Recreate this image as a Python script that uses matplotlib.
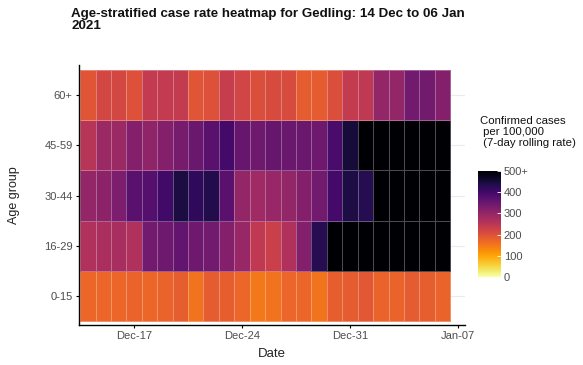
import numpy as np
import pandas as pd
import matplotlib
matplotlib.use("Agg")
import matplotlib.pyplot as plt
import matplotlib.dates as mdates

plt.rcParams['font.family'] = ['Liberation Sans', 'DejaVu Sans']

# 7-day rolling case rate per 100,000, Dec 14 2020 .. Jan 06 2021
dates = pd.date_range('2020-12-14', '2021-01-06', freq='D')
age_groups = ['0-15', '16-29', '30-44', '45-59', '60+']

rate_0_15 = [170, 170, 170, 175, 170, 175, 180, 155, 185, 180, 170, 150,
             155, 170, 170, 155, 180, 185, 190, 175, 175, 185, 180, 175]
rate_16_29 = [265, 270, 275, 265, 340, 345, 360, 345, 340, 320, 295, 245,
              230, 265, 320, 430, 540, 580, 620, 650, 680, 700, 690, 680]
rate_30_44 = [300, 310, 330, 370, 375, 400, 445, 420, 435, 370, 300, 285,
              295, 300, 320, 340, 395, 440, 430, 560, 600, 640, 660, 650]
rate_45_59 = [255, 290, 290, 320, 305, 320, 335, 350, 370, 395, 355, 345,
              355, 350, 350, 345, 390, 450, 560, 620, 650, 680, 700, 690]
rate_60p = [195, 215, 215, 200, 240, 240, 240, 195, 200, 235, 220, 205,
            210, 210, 185, 185, 205, 240, 245, 300, 300, 340, 340, 320]

cbar_ticks = [0, 100, 200, 300, 400, 500]
cbar_labels = ['0', '100', '200', '300', '400', '500+']
x_tick_dates = pd.to_datetime(['2020-12-17', '2020-12-24', '2020-12-31', '2021-01-07'])

values = np.array([rate_0_15, rate_16_29, rate_30_44, rate_45_59, rate_60p])

fig = plt.figure(figsize=(5.83, 3.65), dpi=100)
ax = fig.add_axes([0.1355, 0.1096, 0.662, 0.7123])

xnum = mdates.date2num(dates)
x_edges = np.append(xnum - 0.5, xnum[-1] + 0.5)
y_edges = np.arange(len(age_groups) + 1)

# faint grid lines behind the tiles (ggplot style)
for yc in np.arange(len(age_groups)) + 0.5:
    ax.axhline(yc, color='#ebebeb', lw=0.8, zorder=0)

mesh = ax.pcolormesh(x_edges, y_edges, values, cmap='inferno_r', vmin=0, vmax=500,
                     edgecolor=(1, 1, 1, 0.3), linewidth=0.6, zorder=1)

ax.set_xlim(xnum[0] - 0.57, mdates.date2num(pd.Timestamp('2021-01-07')) + 0.45)
ax.set_ylim(-0.08, 5.1)

ax.set_yticks(np.arange(len(age_groups)) + 0.5)
ax.set_yticklabels(age_groups)
ax.set_xticks(mdates.date2num(x_tick_dates))
ax.xaxis.set_major_formatter(mdates.DateFormatter('%b-%d'))

for s in ['top', 'right']:
    ax.spines[s].set_visible(False)
for s in ['left', 'bottom']:
    ax.spines[s].set_linewidth(1.0)
ax.tick_params(axis='both', labelsize=8, colors='black', labelcolor='#4d4d4d',
               length=2.5, width=0.8, pad=2)

ax.set_xlabel('Date', fontsize=9.5, color='#222222', labelpad=5)
ax.set_ylabel('Age group', fontsize=9, color='#222222')
ax.yaxis.set_label_coords(-0.153, 0.5)

fig.text(71 / 583, 1 - 8 / 365, 'Age-stratified case rate heatmap for Gedling: 14 Dec to 06 Jan\n2021',
         fontsize=9.6, fontweight='bold', ha='left', va='top', linespacing=0.95, color='#111111')

# colour bar legend
cax = fig.add_axes([478 / 583, 1 - 277 / 365, 23 / 583, 106 / 365])
cb = fig.colorbar(mesh, cax=cax, ticks=cbar_ticks)
cb.ax.set_yticklabels(cbar_labels)
cb.outline.set_visible(False)
cb.ax.tick_params(labelsize=8, labelcolor='#4d4d4d', length=3, color='white',
                  width=0.6, direction='in', pad=2)
fig.text(480 / 583, 1 - 116 / 365, 'Confirmed cases\n per 100,000\n (7-day rolling rate)',
         fontsize=8.2, ha='left', va='top', linespacing=1.15, color='#111111')

fig.savefig('out.png', dpi=100)
